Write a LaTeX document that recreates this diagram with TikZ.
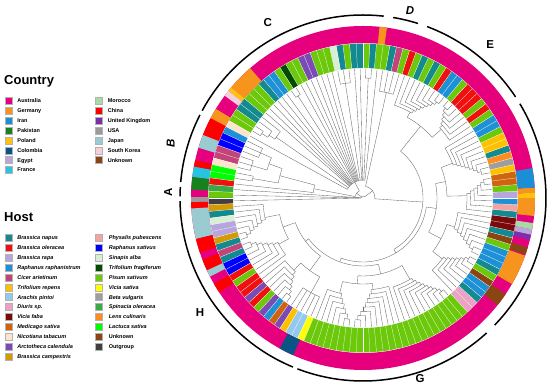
\documentclass[tikz,border=0pt]{standalone}
\usepackage{fontspec}
\setmainfont{Liberation Sans}
\usetikzlibrary{positioning}

% country colours
\definecolor{australia}{HTML}{E6007E}
\definecolor{germany}{HTML}{F7941D}
\definecolor{iran}{HTML}{1B8FD6}
\definecolor{pakistan}{HTML}{15821E}
\definecolor{poland}{HTML}{FFC20E}
\definecolor{colombia}{HTML}{0B5486}
\definecolor{egypt}{HTML}{B9A6DB}
\definecolor{france}{HTML}{27C4E0}
\definecolor{morocco}{HTML}{A9D9A5}
\definecolor{china}{HTML}{FF0000}
\definecolor{uk}{HTML}{7B2FA8}
\definecolor{usa}{HTML}{9B9B9B}
\definecolor{japan}{HTML}{9ACBD1}
\definecolor{skorea}{HTML}{F6CFDD}
\definecolor{unkcountry}{HTML}{8B4513}
% host colours
\definecolor{napus}{HTML}{138A8F}
\definecolor{oleracea}{HTML}{F01010}
\definecolor{rapa}{HTML}{B7A6DD}
\definecolor{raphanistrum}{HTML}{1E90D6}
\definecolor{cicer}{HTML}{C2457A}
\definecolor{trepens}{HTML}{FFC000}
\definecolor{arachis}{HTML}{93C9EE}
\definecolor{diuris}{HTML}{EBA2C4}
\definecolor{faba}{HTML}{7A0A0A}
\definecolor{medicago}{HTML}{D0640E}
\definecolor{nicotiana}{HTML}{FDE4CC}
\definecolor{arctotheca}{HTML}{7A4BB5}
\definecolor{campestris}{HTML}{D49A06}
\definecolor{physalis}{HTML}{F4A3A3}
\definecolor{sativus}{HTML}{0000FF}
\definecolor{sinapis}{HTML}{D8EFD6}
\definecolor{fragiferum}{HTML}{034A03}
\definecolor{pisum}{HTML}{6CC80A}
\definecolor{vsativa}{HTML}{FFFF00}
\definecolor{beta}{HTML}{9E9E9E}
\definecolor{spinacia}{HTML}{3AAA48}
\definecolor{lens}{HTML}{FF8C1C}
\definecolor{lactuca}{HTML}{00FF00}
\definecolor{unkhost}{HTML}{8B4513}
\definecolor{outgroup}{HTML}{404040}

% ring piece: inner r, outer r, from, to, colour
\newcommand{\ringseg}[5]{\fill[#5] ([shift={(c)}]#3:#1) arc[start angle=#3, end angle=#4, radius=#1]
  -- ([shift={(c)}]#4:#2) arc[start angle=#4, end angle=#3, radius=#2] -- cycle;}
% star clade: first tip, tips, node r, parent r
\newcommand{\clade}[4]{%
  \pgfmathsetmacro{\cll}{#1+2.5*(#2-1)}%
  \pgfmathsetmacro{\clm}{(#1+\cll)/2}%
  \pgfmathtruncatemacro{\cln}{#2-1}%
  \draw[branch] ([shift={(c)}]\clm:#4) -- ([shift={(c)}]\clm:#3);
  \draw[branch] ([shift={(c)}]#1:#3) arc[start angle=#1, end angle=\cll, radius=#3];
  \foreach \cj in {0,...,\cln}{%
    \pgfmathsetmacro{\cti}{#1+2.5*\cj}%
    \draw[branch] ([shift={(c)}]\cti:#3) -- ([shift={(c)}]\cti:129);}%
}
% ladder clade: first tip, tips, step, inner r, outer r, parent r
\newcommand{\comb}[6]{%
  \pgfmathsetmacro{\cbd}{(#5-#4)/max(#2-2,1)}%
  \pgfmathtruncatemacro{\cbn}{#2-1}%
  \pgfmathsetmacro{\cbl}{#1+(#2-1)*(#3)}%
  \pgfmathsetmacro{\cbm}{(#1+\cbl)/2}%
  \draw[branch] ([shift={(c)}]\cbm:#6) -- ([shift={(c)}]\cbm:#4);
  \foreach \k in {1,...,\cbn}{%
    \pgfmathsetmacro{\cra}{#4+(\k-1)*\cbd}%
    \pgfmathsetmacro{\crb}{#4+\k*\cbd}%
    \pgfmathsetmacro{\cba}{#1+(\k-1)*(#3)}%
    \pgfmathsetmacro{\cbb}{(#1+\k*(#3)+\cbl)/2}%
    \draw[branch] ([shift={(c)}]\cba:\cra) -- ([shift={(c)}]\cba:129);
    \draw[branch] ([shift={(c)}]\cba:\cra) arc[start angle=\cba, end angle=\cbb, radius=\cra];
    \ifnum\k<\cbn
      \draw[branch] ([shift={(c)}]\cbb:\cra) -- ([shift={(c)}]\cbb:\crb);
    \else
      \draw[branch] ([shift={(c)}]\cbb:\cra) -- ([shift={(c)}]\cbb:129);
    \fi
  }%
}

\begin{document}
\begin{tikzpicture}[x=1pt, y=1pt,
  branch/.style={draw=black!60, line width=0.35pt},
  cladearc/.style={draw=black, line width=1.5pt},
  cladelab/.style={font=\fontsize{11.5}{12}\selectfont\bfseries, inner sep=0pt},
  ttl/.style={font=\fontsize{13}{14}\selectfont\bfseries, anchor=base west, inner sep=0pt},
  sw/.style={draw=black!30, line width=0.3pt, minimum size=7pt, inner sep=0pt},
  lab/.style={font=\fontsize{5.5}{6}\selectfont\bfseries, inner sep=0pt, text height=3.9pt, text depth=0pt}]
\useasboundingbox (0,0) rectangle (550,390);
\coordinate (c) at (363,192);

% country ring
\ringseg{155}{172}{0}{360}{australia}
\foreach \ang/\angb/\col in {241/246/colombia, 321.5/326/unkcountry, 330/340.4/germany,
  340.8/343.3/unkcountry, 345.9/347.7/uk, 347.7/349.5/egypt, 349.5/351.6/morocco,
  354/360/germany, 0/1.7/poland, 1.7/3.5/germany, 3.5/10/iran, 82/84.5/germany,
  131/140/germany, 140/141.5/poland, 141.5/143.5/skorea, 148.8/152.4/germany,
  152.4/158.5/china, 158.5/163/japan, 167.3/169.5/china, 169.5/173/france,
  173/177.2/pakistan, 179.7/181.4/usa, 181.4/183.5/china, 183.5/193.8/japan,
  193.8/198.5/china, 201/204.9/china, 204.9/207.2/japan, 210/213.3/china}
  {\ringseg{155}{172}{\ang}{\angb}{\col}}

% host ring
\foreach \ang/\angb/\col in {-47.5/-42.5/diuris, -42.5/-40/napus, -40/-35/raphanistrum,
  -35/-32.5/unkhost, -32.5/-30/pisum, -30/-27.5/napus, -27.5/-20/raphanistrum,
  -20/-17.5/pisum, -17.5/-15/unkhost, -15/-12.5/napus, -12.5/-7.5/faba, -7.5/-5/napus,
  -5/-2.5/physalis, -2.5/0/raphanistrum, 0/2.5/rapa, 2.5/5/pisum, 5/10/medicago,
  10/12.5/trepens, 12.5/15/beta, 15/17.5/lens, 17.5/20/napus, 20/25/trepens,
  25/27.5/pisum, 27.5/32.5/raphanistrum, 32.5/35/pisum, 35/37.5/oleracea,
  37.5/40/pisum, 40/47.5/oleracea, 47.5/50/pisum, 50/55/raphanistrum,
  55/57.5/oleracea, 57.5/60/pisum, 60/62.5/napus, 62.5/65/pisum, 65/67.5/napus,
  67.5/70/pisum, 70/72.5/oleracea, 72.5/75/pisum, 75/77.5/cicer, 77.5/80/napus,
  80/85/pisum, 85/87.5/napus, 87.5/90/pisum, 90/95/napus, 95/97.5/pisum,
  97.5/100/napus, 100/102.5/sinapis, 102.5/110/pisum, 110/115/arctotheca,
  115/120/pisum, 120/122.5/fragiferum, 122.5/125/pisum, 125/130/raphanistrum,
  130/132.5/napus, 132.5/140/pisum, 140/145/napus, 145/150/pisum,
  150/152.5/nicotiana, 152.5/155/raphanistrum, 155/160/sativus, 160/165/cicer,
  165/167.5/nicotiana, 167.5/172.5/lactuca, 172.5/175/oleracea, 175/177.5/spinacia,
  177.5/180/pisum, 180/182.5/outgroup, 182.5/185/campestris, 185/187.5/napus,
  187.5/190/sinapis, 190/195/rapa, 195/197.5/campestris, 197.5/200/napus,
  200/202.5/cicer, 202.5/205/napus, 205/210/sativus, 210/212.5/oleracea,
  212.5/215/pisum, 215/220/oleracea, 220/222.5/arctotheca, 222.5/225/oleracea,
  225/227.5/pisum, 227.5/230/arctotheca, 230/232.5/raphanistrum, 232.5/235/medicago,
  235/237.5/arctotheca, 237.5/240/trepens, 240/245/arachis, 245/247.5/vsativa,
  247.5/312.5/pisum}
  {\ringseg{130}{154.5}{\ang}{\angb}{\col}}
\foreach \ang in {0,2.5,...,357.5}
  \draw[white, line width=0.25pt] ([shift={(c)}]\ang:130) -- ([shift={(c)}]\ang:154.5);

% tree: clade C
\foreach \ang in {83.75,91.25,93.75,103.75,106.25,108.75,111.25,113.75,116.25,118.75,
  126.25,128.75,131.25,133.75,136.25,138.75,151.25}
  \draw[branch] ([shift={(c)}]\ang:18) -- ([shift={(c)}]\ang:129);
\clade{86.25}{2}{120}{18}
\clade{96.25}{3}{116}{18}
\clade{121.25}{2}{121}{18}
\comb{141.25}{4}{2.5}{106}{120}{18}
% clade B
\clade{153.75}{3}{112}{100}
\clade{161.25}{3}{116}{100}
\clade{168.75}{2}{112}{86}
% clade H
\comb{183.75}{7}{2.5}{100}{122}{85}
\comb{216.25}{7}{-2.5}{96}{121}{85}
\comb{218.75}{7}{2.5}{100}{122}{90}
\clade{236.25}{5}{108}{90}
% clade G
\comb{248.75}{7}{2.5}{98}{122}{86}
\comb{286.25}{9}{-2.5}{92}{122}{86}
\comb{288.75}{10}{2.5}{94}{122}{78}
% right side
\comb{313.75}{8}{2.5}{100}{122}{88}
\comb{351.25}{8}{-2.5}{96}{121}{88}
\comb{353.75}{7}{2.5}{104}{122}{84}
\comb{391.25}{9}{-2.5}{96}{121}{84}
% clades E and D
\comb{393.75}{7}{2.5}{104}{122}{92}
\comb{431.25}{9}{-2.5}{98}{121}{92}
\clade{433.75}{4}{108}{12}
% deeper nodes
\foreach \rad/\ang/\angb in {85/191.25/208.75, 90/226.25/241.25, 72/200/233.75,
  86/256.25/276.25, 78/266.25/300, 68/216.875/283.125, 88/322.5/342.5,
  84/361.25/381.25, 74/332.5/371.25, 64/250/351.875, 92/401.25/421.25,
  60/300.94/411.25, 12/356.1/437.5, 18/83.75/151.25, 100/156.25/163.75,
  86/160/170, 50/165/173.75, 8/117.5/169.375, 4/176.25/178.75, 2/36.8/181.25}
  \draw[branch] ([shift={(c)}]\ang:\rad) arc[start angle=\ang, end angle=\angb, radius=\rad];
\foreach \ang/\rad/\radb in {200/72/85, 233.75/72/90, 216.875/68/72, 266.25/78/86,
  283.125/68/78, 250/64/68, 332.5/74/88, 371.25/74/84, 351.875/64/74, 300.94/60/64,
  411.25/60/92, 356.1/12/60, 396.8/2/12, 160/86/100, 165/50/86, 169.375/8/50,
  117.5/8/18, 143.44/2/8, 177.5/2/4, 173.75/50/129, 176.25/4/129, 178.75/4/129,
  181.25/2/129}
  \draw[branch] ([shift={(c)}]\ang:\rad) -- ([shift={(c)}]\ang:\radb);

% clade arcs and letters
\foreach \ang/\angb in {176.5/179.5, 153/175, 83.5/151.5, 72.5/80.5, 33.5/69.5,
  -44/31, 249/312.5, 181/247.5}
  \draw[cladearc] ([shift={(c)}]\ang:183) arc[start angle=\ang, end angle=\angb, radius=183];
\node[cladelab, rotate=90] (labA) at ([shift={(c)}]178.2:195) {A};
\node[cladelab, rotate=90, font=\fontsize{11.5}{12}\selectfont\bfseries\itshape] (labB) at ([shift={(c)}]164:200) {B};
\node[cladelab] (labC) at ([shift={(c)}]118.4:200) {C};
\node[cladelab, font=\fontsize{11.5}{12}\selectfont\bfseries\itshape] (labD) at ([shift={(c)}]75.9:193) {D};
\node[cladelab] (labE) at ([shift={(c)}]50.3:199) {E};
\node[cladelab] (labG) at ([shift={(c)}]287.6:189) {G};
\node[cladelab] (labH) at ([shift={(c)}]215.2:199.5) {H};

% legend: country
\node[ttl] (cty) at (4,305) {Country};
\foreach \col/\name [count=\n from 0] in {australia/Australia, germany/Germany, iran/Iran,
  pakistan/Pakistan, poland/Poland, colombia/Colombia, egypt/Egypt, france/France}{
  \node[sw, fill=\col] (ctya\n) at (8.5,{289-9.85*\n}) {};
  \node[lab, right=5pt of ctya\n] (ctyat\n) {\name};}
\foreach \col/\name [count=\n from 0] in {morocco/Morocco, china/China, uk/United Kingdom,
  usa/USA, japan/Japan, skorea/South Korea, unkcountry/Unknown}{
  \node[sw, fill=\col] (ctyb\n) at (99,{289-9.85*\n}) {};
  \node[lab, right=5pt of ctyb\n] (ctybt\n) {\name};}
% legend: host
\node[ttl] (hst) at (4,168) {Host};
\foreach \col/\name [count=\n from 0] in {napus/Brassica napus, oleracea/Brassica oleracea,
  rapa/Brassica rapa, raphanistrum/Raphanus raphanistrum, cicer/Cicer arietinum,
  trepens/Trifolium repens, arachis/Arachis pintoi, diuris/Diuris sp., faba/Vicia faba,
  medicago/Medicago sativa, nicotiana/Nicotiana tabacum, arctotheca/Arctotheca calendula,
  campestris/Brassica campestris}{
  \node[sw, fill=\col] (hsta\n) at (8.5,{152-9.85*\n}) {};
  \node[lab, right=5pt of hsta\n] (hstat\n) {\itshape\name};}
\foreach \col/\name [count=\n from 0] in {physalis/Physalis pubescens, sativus/Raphanus sativus,
  sinapis/Sinapis alba, fragiferum/Trifolium fragiferum, pisum/Pisum sativum,
  vsativa/Vicia sativa, beta/Beta vulgaris, spinacia/Spinacia oleracea,
  lens/Lens culinaris, lactuca/Lactuca sativa, unkhost/{\upshape Unknown},
  outgroup/{\upshape Outgroup}}{
  \node[sw, fill=\col] (hstb\n) at (99,{152-9.85*\n}) {};
  \node[lab, right=6pt of hstb\n] (hstbt\n) {\itshape\name};}
\end{tikzpicture}
\end{document}
